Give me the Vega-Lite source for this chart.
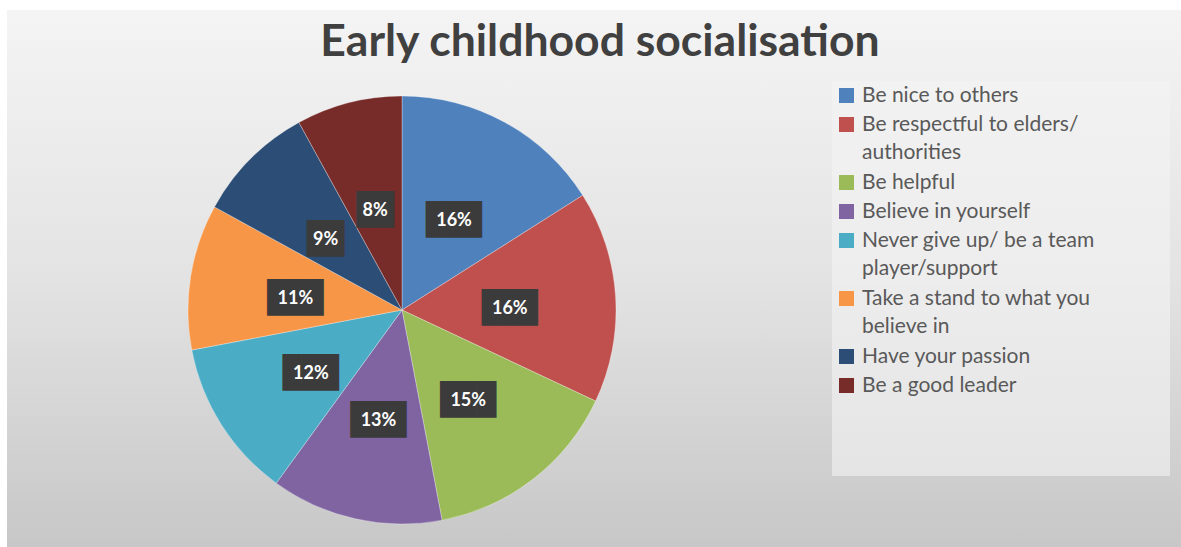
{
  "$schema": "https://vega.github.io/schema/vega-lite/v6.json",
  "width": 1181,
  "height": 547,
  "autosize": {"type": "fit", "contains": "padding"},
  "padding": {"left": 7, "top": 10, "right": 0, "bottom": 0},
  "background": "#ffffff",
  "title": {
    "text": "Early childhood socialisation",
    "anchor": "middle",
    "frame": "group",
    "orient": "top",
    "offset": -90,
    "baseline": "alphabetic",
    "font": "Lato",
    "fontSize": 44.5,
    "fontWeight": "bold",
    "color": "#404040",
    "dx": 6
  },
  "data": {
    "values": [
      {"idx": 1, "category": "Be nice to others", "value": 16, "label": "16%"},
      {"idx": 2, "category": "Be respectful to elders/ authorities", "value": 16, "label": "16%"},
      {"idx": 3, "category": "Be helpful", "value": 15, "label": "15%"},
      {"idx": 4, "category": "Believe in yourself", "value": 13, "label": "13%"},
      {"idx": 5, "category": "Never give up/ be a team player/support", "value": 12, "label": "12%"},
      {"idx": 6, "category": "Take a stand to what you believe in", "value": 11, "label": "11%"},
      {"idx": 7, "category": "Have your passion", "value": 9, "label": "9%"},
      {"idx": 8, "category": "Be a good leader", "value": 8, "label": "8%"}
    ]
  },
  "layer": [
    {
      "data": {"values": [{"bg": 1}]},
      "mark": {
        "type": "rect",
        "color": {
          "gradient": "linear",
          "x1": 0, "y1": 0, "x2": 0, "y2": 1,
          "stops": [
            {"offset": 0, "color": "#f4f4f4"},
            {"offset": 0.5, "color": "#e3e3e3"},
            {"offset": 1, "color": "#c7c7c7"}
          ]
        }
      },
      "encoding": {}
    },
    {
      "mark": {"type": "arc", "outerRadius": 214, "x": 395, "y": 300, "stroke": "#ffffff", "strokeWidth": 0.5, "strokeOpacity": 0.6},
      "encoding": {
        "theta": {"field": "value", "type": "quantitative", "stack": true},
        "order": {"field": "idx", "type": "quantitative"},
        "color": {
          "field": "category",
          "type": "nominal",
          "scale": {
            "domain": ["Be nice to others", "Be respectful to elders/ authorities", "Be helpful", "Believe in yourself", "Never give up/ be a team player/support", "Take a stand to what you believe in", "Have your passion", "Be a good leader"],
            "range": ["#4F81BD", "#C0504D", "#9BBB59", "#8064A2", "#4BACC6", "#F79646", "#2C4D75", "#772C2A"]
          },
          "legend": {
            "orient": "none",
            "legendX": 825,
            "legendY": 71,
            "padding": 4,
            "fillColor": "rgba(244,244,244,0.6)",
            "title": " ",
            "titleOrient": "right",
            "titleAnchor": "start",
            "titleFont": "Lato",
            "titleFontSize": 391,
            "titleLimit": 600,
            "titlePadding": 71,
            "symbolType": "square",
            "symbolSize": 225,
            "symbolStrokeWidth": 0,
            "symbolOpacity": 1,
            "labelFont": "Lato",
            "labelFontSize": 21,
            "labelColor": "#595959",
            "labelLimit": 400,
            "labelOffset": 5,
            "rowPadding": 7,
            "labelExpr": "datum.label == 'Be respectful to elders/ authorities' ? ['Be respectful to elders/', 'authorities'] : datum.label == 'Never give up/ be a team player/support' ? ['Never give up/ be a team', 'player/support'] : datum.label == 'Take a stand to what you believe in' ? ['Take a stand to what you', 'believe in'] : datum.label"
          }
        }
      }
    },
    {
      "mark": {"type": "text", "x": 395, "y": 300, "radius": 108, "dy": 6, "font": "DejaVu Sans Mono", "fontSize": 31, "color": "#3b3b3b", "align": "center", "baseline": "middle"},
      "encoding": {
        "theta": {"field": "value", "type": "quantitative", "stack": true},
        "order": {"field": "idx", "type": "quantitative"},
        "text": {"condition": {"test": "datum.value < 10", "value": "██"}, "value": "███"}
      }
    },
    {
      "mark": {"type": "text", "x": 395, "y": 300, "radius": 108, "dy": 6, "font": "Lato", "fontSize": 18, "fontWeight": "bold", "color": "#ffffff", "align": "center", "baseline": "middle"},
      "encoding": {
        "theta": {"field": "value", "type": "quantitative", "stack": true},
        "order": {"field": "idx", "type": "quantitative"},
        "text": {"field": "label", "type": "nominal"}
      }
    }
  ],
  "config": {
    "view": {"stroke": null},
    "style": {"guide-label": {"lineHeight": 28.7}}
  }
}
